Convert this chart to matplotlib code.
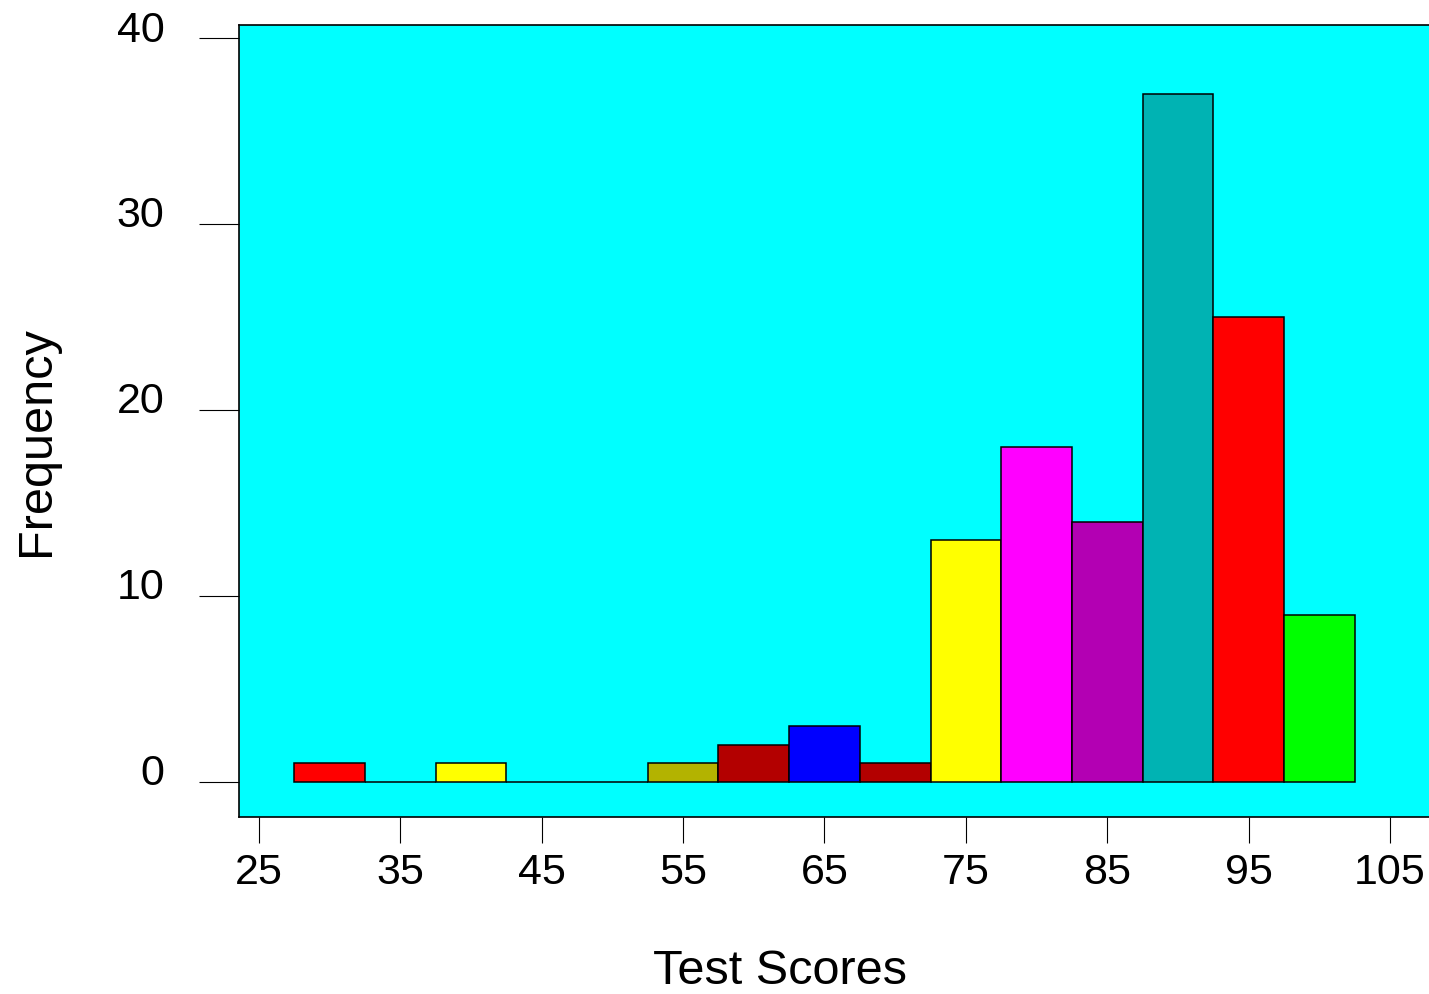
import matplotlib.pyplot as plt
from matplotlib.transforms import ScaledTranslation

plt.rcParams["font.family"] = ["Liberation Sans", "DejaVu Sans"]

# histogram bins (width 5) and counts
bin_edges = [27.5, 32.5, 37.5, 42.5, 47.5, 52.5, 57.5, 62.5, 67.5,
             72.5, 77.5, 82.5, 87.5, 92.5, 97.5, 102.5]
counts = [1, 0, 1, 0, 0, 1, 2, 3, 1, 13, 18, 14, 37, 25, 9]
bar_colors = ["#FF0000", "#00FF00", "#FFFF00", "#0000FF", "#FF00FF",
              "#B3B300", "#B30000", "#0000FF", "#B30000", "#FFFF00",
              "#FF00FF", "#B300B3", "#00B3B3", "#FF0000", "#00FF00"]
x_ticks = [25, 35, 45, 55, 65, 75, 85, 95, 105]
y_ticks = [0, 10, 20, 30, 40]

W, H = 1429, 994
fig = plt.figure(figsize=(W / 100, H / 100), dpi=100)
# axes box in pixels: left 239, right beyond figure edge, top 25, bottom 817
ax = fig.add_axes([239 / W, (H - 817) / H, (1440 - 239) / W, (817 - 25) / H])
ax.set_facecolor("#00FFFF")

lefts = bin_edges[:-1]
widths = [b - a for a, b in zip(bin_edges[:-1], bin_edges[1:])]
ax.bar(lefts, counts, width=widths, align="edge", color=bar_colors,
       edgecolor="black", linewidth=1.1)

ax.set_xlim(23.585, 108.54)
ax.set_ylim(-1.882, 40.699)

ax.set_xticks(x_ticks)
ax.set_yticks(y_ticks)
ax.tick_params(axis="x", length=18.7, width=0.8, pad=7, labelsize=31)
ax.tick_params(axis="y", length=28.8, width=0.8, pad=25, labelsize=31)
for lbl in ax.get_yticklabels():
    lbl.set_transform(lbl.get_transform() + ScaledTranslation(0, 0.12, fig.dpi_scale_trans))

for s in ax.spines.values():
    s.set_linewidth(1.2)

fig.text(780 / W, 1 - 972 / H, "Test Scores", ha="center", va="center", fontsize=35)
fig.text(37 / W, 1 - 441 / H, "Frequency", ha="center", va="center",
         rotation=90, fontsize=35)

fig.savefig("out.png", dpi=100)
